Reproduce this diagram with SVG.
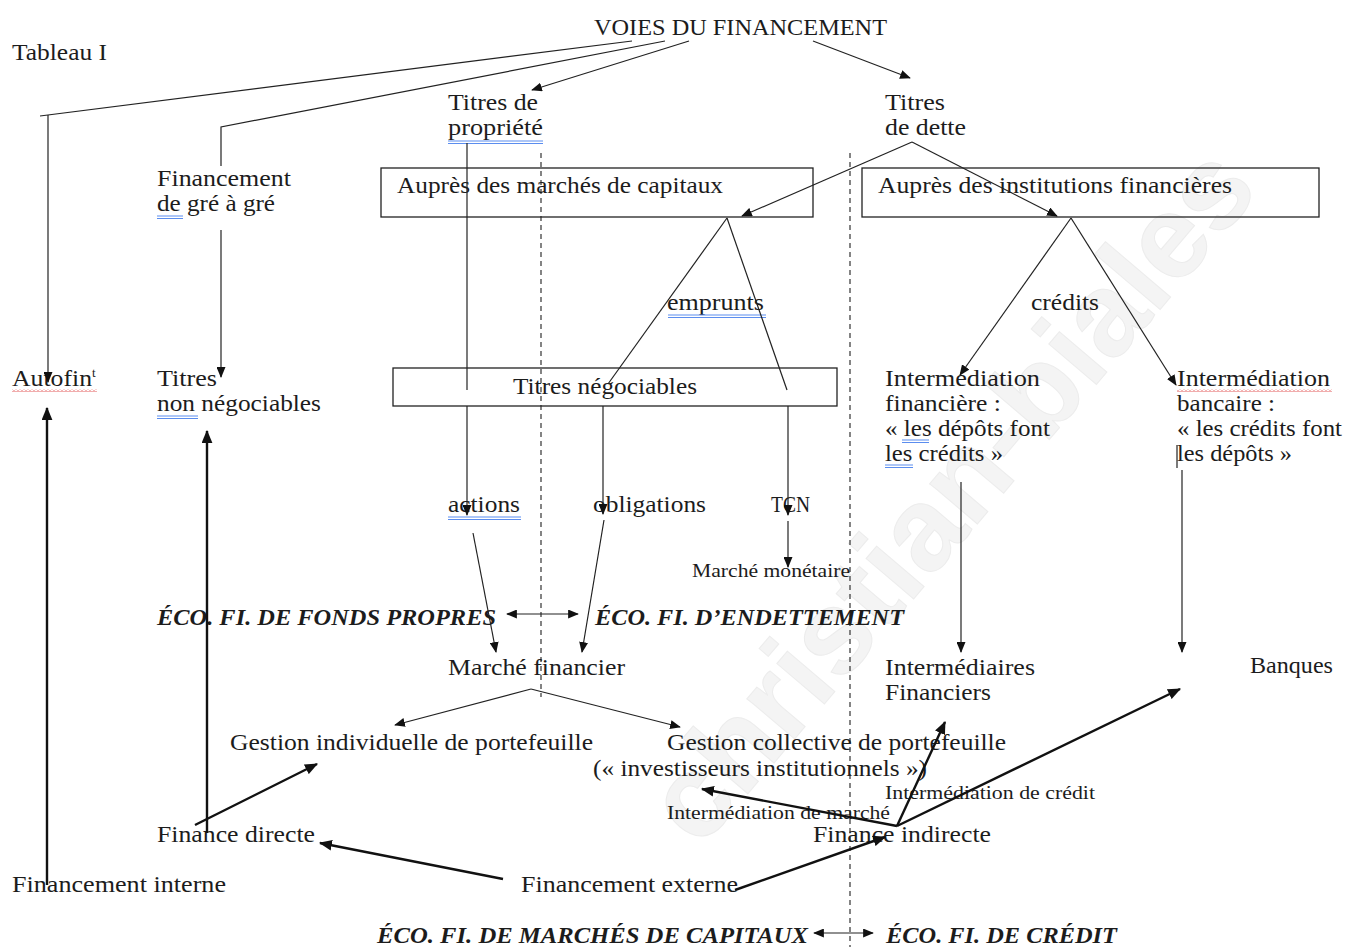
<svg xmlns="http://www.w3.org/2000/svg" width="1345" height="947" viewBox="0 0 1345 947">
<style>
.t{font-family:"Liberation Serif","Times New Roman",serif;font-size:23px;fill:#1c1c1c}
.s{font-size:19px}
.b{font-weight:bold;font-style:italic}
.ln{stroke:#222;stroke-width:1.2;fill:none}
.th{stroke:#111;stroke-width:2.4;fill:none}
.ds{stroke:#333;stroke-width:1.2;stroke-dasharray:5,4;fill:none}
.bx{fill:none;stroke:#222;stroke-width:1.3}
.ul{stroke:#5b8def;stroke-width:1;fill:none}
.wm{font-family:"Liberation Sans",Arial,sans-serif;font-weight:bold;font-size:118px;fill:#f4f4f4;stroke:#ececec;stroke-width:1}
</style>
<defs>
<marker id="a" viewBox="0 0 12 10" refX="11" refY="5" markerWidth="11" markerHeight="9" markerUnits="userSpaceOnUse" orient="auto"><path d="M0,0 L12,5 L0,10 z" fill="#111"/></marker>
<marker id="a2" viewBox="0 0 12 10" refX="11" refY="5" markerWidth="11" markerHeight="9" markerUnits="userSpaceOnUse" orient="auto-start-reverse"><path d="M0,0 L12,5 L0,10 z" fill="#111"/></marker>
<marker id="ak" viewBox="0 0 12 10" refX="11" refY="5" markerWidth="13" markerHeight="11" markerUnits="userSpaceOnUse" orient="auto"><path d="M0,0 L12,5 L0,10 z" fill="#111"/></marker>
<pattern id="wave" width="4" height="3" patternUnits="userSpaceOnUse"><path d="M0,2.5 L2,0.5 L4,2.5" stroke="#e04848" stroke-width="0.9" fill="none"/></pattern>
</defs>
<rect width="1345" height="947" fill="#fff"/>
<text class="wm" x="700" y="850" transform="rotate(-49.6 700 850)">christian-biales</text>

<g id="dashes">
<path class="ds" d="M541,153 L541,697"/>
<path class="ds" d="M850,153 L850,947"/>
</g>

<g id="n-tableau"><text class="t" x="12" y="60" textLength="95" lengthAdjust="spacingAndGlyphs">Tableau I</text></g>
<g id="n-voies"><text class="t" x="594" y="35" textLength="293" lengthAdjust="spacingAndGlyphs">VOIES DU FINANCEMENT</text></g>
<g id="n-propriete">
<text class="t" x="448" y="110" textLength="90" lengthAdjust="spacingAndGlyphs">Titres de</text>
<text class="t" x="448" y="135" textLength="95" lengthAdjust="spacingAndGlyphs">propriété</text>
<path class="ul" d="M448,141 H543 M448,143.5 H543"/>
</g>
<g id="n-dette">
<text class="t" x="885" y="110" textLength="60" lengthAdjust="spacingAndGlyphs">Titres</text>
<text class="t" x="885" y="135" textLength="81" lengthAdjust="spacingAndGlyphs">de dette</text>
</g>
<g id="n-gre">
<text class="t" x="157" y="186" textLength="134" lengthAdjust="spacingAndGlyphs">Financement</text>
<text class="t" x="157" y="211" textLength="118" lengthAdjust="spacingAndGlyphs">de gré à gré</text>
<path class="ul" d="M157,216 H183 M157,218.5 H183"/>
</g>
<g id="n-marches">
<rect class="bx" x="381" y="168" width="432" height="49"/>
<text class="t" x="397" y="193" textLength="326" lengthAdjust="spacingAndGlyphs">Auprès des marchés de capitaux</text>
</g>
<g id="n-institutions">
<rect class="bx" x="862" y="168" width="457" height="49"/>
<text class="t" x="878" y="193" textLength="354" lengthAdjust="spacingAndGlyphs">Auprès des institutions financières</text>
</g>
<g id="n-emprunts">
<text class="t" x="667" y="310" textLength="97" lengthAdjust="spacingAndGlyphs">emprunts</text>
<path class="ul" d="M668,315 H766 M668,317.5 H766"/>
</g>
<g id="n-credits"><text class="t" x="1031" y="310" textLength="68" lengthAdjust="spacingAndGlyphs">crédits</text></g>
<g id="n-negociables">
<rect class="bx" x="393" y="368" width="444" height="38"/>
<text class="t" x="513" y="394" textLength="184" lengthAdjust="spacingAndGlyphs">Titres négociables</text>
</g>
<g id="n-autofin">
<text class="t" x="12" y="386" textLength="80" lengthAdjust="spacingAndGlyphs">Autofin</text>
<text class="t" x="92" y="377" style="font-size:13px">t</text>
<rect x="12" y="389" width="85" height="3" fill="url(#wave)"/>
</g>
<g id="n-nonneg">
<text class="t" x="157" y="386" textLength="60" lengthAdjust="spacingAndGlyphs">Titres</text>
<text class="t" x="157" y="411" textLength="164" lengthAdjust="spacingAndGlyphs">non négociables</text>
<path class="ul" d="M157,416 H198 M157,418.5 H198"/>
</g>
<g id="n-intfin">
<text class="t" x="885" y="386" textLength="155" lengthAdjust="spacingAndGlyphs">Intermédiation</text>
<text class="t" x="885" y="411" textLength="116" lengthAdjust="spacingAndGlyphs">financière :</text>
<text class="t" x="885" y="436" textLength="165" lengthAdjust="spacingAndGlyphs">« les dépôts font</text>
<text class="t" x="885" y="461" textLength="118" lengthAdjust="spacingAndGlyphs">les crédits »</text>
<path class="ul" d="M902,440 H929 M902,442.5 H929 M885,465 H913 M885,467.5 H913"/>
</g>
<g id="n-intbanc">
<text class="t" x="1177" y="386" textLength="153" lengthAdjust="spacingAndGlyphs">Intermédiation</text>
<rect x="1177" y="389" width="155" height="3" fill="url(#wave)"/>
<text class="t" x="1177" y="411" textLength="98" lengthAdjust="spacingAndGlyphs">bancaire :</text>
<text class="t" x="1177" y="436" textLength="165" lengthAdjust="spacingAndGlyphs">« les crédits font</text>
<text class="t" x="1177" y="461" textLength="115" lengthAdjust="spacingAndGlyphs">les dépôts »</text>
</g>
<g id="n-actions">
<text class="t" x="448" y="512" textLength="72" lengthAdjust="spacingAndGlyphs">actions</text>
<path class="ul" d="M448,517 H521 M448,519.5 H521"/>
</g>
<g id="n-obligations"><text class="t" x="593" y="512" textLength="113" lengthAdjust="spacingAndGlyphs">obligations</text></g>
<g id="n-tcn"><text class="t" x="771" y="512" textLength="39" lengthAdjust="spacingAndGlyphs">TCN</text></g>
<g id="n-monetaire"><text class="t s" x="692" y="577" textLength="158" lengthAdjust="spacingAndGlyphs">Marché monétaire</text></g>
<g id="n-eco-fp"><text class="t b" x="157" y="625" textLength="339" lengthAdjust="spacingAndGlyphs">ÉCO. FI. DE FONDS PROPRES</text></g>
<g id="n-eco-end"><text class="t b" x="595" y="625" textLength="309" lengthAdjust="spacingAndGlyphs">ÉCO. FI. D’ENDETTEMENT</text></g>
<g id="n-marchefin"><text class="t" x="448" y="675" textLength="177" lengthAdjust="spacingAndGlyphs">Marché financier</text></g>
<g id="n-intermediaires">
<text class="t" x="885" y="675" textLength="150" lengthAdjust="spacingAndGlyphs">Intermédiaires</text>
<text class="t" x="885" y="700" textLength="106" lengthAdjust="spacingAndGlyphs">Financiers</text>
</g>
<g id="n-banques"><text class="t" x="1250" y="673" textLength="83" lengthAdjust="spacingAndGlyphs">Banques</text></g>
<g id="n-gestind"><text class="t" x="230" y="750" textLength="363" lengthAdjust="spacingAndGlyphs">Gestion individuelle de portefeuille</text></g>
<g id="n-gestcol">
<text class="t" x="667" y="750" textLength="339" lengthAdjust="spacingAndGlyphs">Gestion collective de portefeuille</text>
<text class="t" x="593" y="776" textLength="334" lengthAdjust="spacingAndGlyphs">(« investisseurs institutionnels »)</text>
</g>
<g id="n-intcredit"><text class="t s" x="885" y="799" textLength="210" lengthAdjust="spacingAndGlyphs">Intermédiation de crédit</text></g>
<g id="n-intmarche"><text class="t s" x="667" y="819" textLength="223" lengthAdjust="spacingAndGlyphs">Intermédiation de marché</text></g>
<g id="n-fdirecte"><text class="t" x="157" y="842" textLength="158" lengthAdjust="spacingAndGlyphs">Finance directe</text></g>
<g id="n-findirecte"><text class="t" x="813" y="842" textLength="178" lengthAdjust="spacingAndGlyphs">Finance indirecte</text></g>
<g id="n-finterne"><text class="t" x="12" y="892" textLength="214" lengthAdjust="spacingAndGlyphs">Financement interne</text></g>
<g id="n-fexterne"><text class="t" x="521" y="892" textLength="217" lengthAdjust="spacingAndGlyphs">Financement externe</text></g>
<g id="n-eco-mc"><text class="t b" x="377" y="943" textLength="431" lengthAdjust="spacingAndGlyphs">ÉCO. FI. DE MARCHÉS DE CAPITAUX</text></g>
<g id="n-eco-cr"><text class="t b" x="886" y="943" textLength="231" lengthAdjust="spacingAndGlyphs">ÉCO. FI. DE CRÉDIT</text></g>

<g id="connectors">
<path class="ln" d="M632,41 L40,116"/>
<path class="ln" d="M48,115 L48,382" marker-end="url(#a)"/>
<path class="ln" d="M665,41 L221,127 L221,166"/>
<path class="ln" d="M221,230 L221,377" marker-end="url(#a)"/>
<path class="ln" d="M689,41 L532,90" marker-end="url(#a)"/>
<path class="ln" d="M813,41 L910,78" marker-end="url(#a)"/>
<path class="ln" d="M467,143 L467,390"/>
<path class="ln" d="M467,406 L467,515" marker-end="url(#a)"/>
<path class="ln" d="M912,142 L742,216" marker-end="url(#a)"/>
<path class="ln" d="M912,142 L1057,216" marker-end="url(#a)"/>
<path class="ln" d="M727,218 L608,384"/>
<path class="ln" d="M727,218 L787,390"/>
<path class="ln" d="M603,406 L603,514" marker-end="url(#a)"/>
<path class="ln" d="M788,406 L788,515" marker-end="url(#a)"/>
<path class="ln" d="M788,521 L788,567" marker-end="url(#a)"/>
<path class="ln" d="M1071,218 L960,375" marker-end="url(#a)"/>
<path class="ln" d="M1071,218 L1176,385" marker-end="url(#a)"/>
<path class="ln" d="M961,482 L961,652" marker-end="url(#a)"/>
<path class="ln" d="M1177,445 L1177,468"/>
<path class="ln" d="M1182,470 L1182,652" marker-end="url(#a)"/>
<path class="ln" d="M473,533 L496,652" marker-end="url(#a)"/>
<path class="ln" d="M604,520 L582,652" marker-end="url(#a)"/>
<path class="ln" d="M507,614 L578,614" marker-start="url(#a2)" marker-end="url(#a2)"/>
<path class="ln" d="M531,689 L395,725" marker-end="url(#a)"/>
<path class="ln" d="M531,689 L680,727" marker-end="url(#a)"/>
<path class="th" d="M47,885 L47,408" marker-end="url(#ak)"/>
<path class="th" d="M207,833 L207,431" marker-end="url(#ak)"/>
<path class="th" d="M195,825 L317,764" marker-end="url(#ak)"/>
<path class="th" d="M503,879 L320,843" marker-end="url(#ak)"/>
<path class="th" d="M735,890 L885,837" marker-end="url(#ak)"/>
<path class="th" d="M897,826 L702,789" marker-end="url(#ak)"/>
<path class="th" d="M897,826 L945,722" marker-end="url(#ak)"/>
<path class="th" d="M897,826 L1180,689" marker-end="url(#ak)"/>
<path class="ln" d="M814,933 L873,933" marker-start="url(#a2)" marker-end="url(#a2)"/>
</g>
</svg>
